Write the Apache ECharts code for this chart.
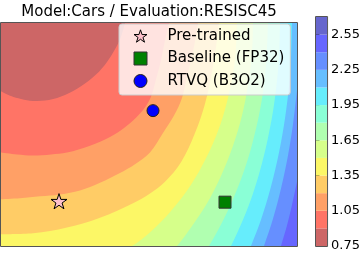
<!DOCTYPE html>
<html><head><meta charset="utf-8">
<script src="https://cdn.jsdelivr.net/npm/echarts@6/dist/echarts.min.js"></script>
<style>html,body{margin:0;padding:0;background:#fff}#c{width:363px;height:255px}</style>
</head><body><div id="c"></div>
<script>
// contour levels (colorbar boundaries)
const levels = [0.75, 0.90, 1.05, 1.20, 1.35, 1.50, 1.65, 1.80, 1.95, 2.10, 2.25, 2.40, 2.55, 2.70];
const cbarTicks = [0.75, 1.05, 1.35, 1.65, 1.95, 2.25, 2.55];

// contour lines, [x, y] in plot units (x 0..296 left->right, y 0..229 top->bottom)
const c090 = [[0,70],[10,75],[20,78],[32,80],[48,79],[64,74],[80,65],[95,53],[106,40],[114,27],[120,14],[124,0]];
const c105 = [[0,133],[16,135],[32,136],[50,135],[66,133],[89,126],[109,117],[124,107],[139,93],[149,78],[155,58],[160,38],[164,18],[168,0]];
const c120 = [[0,181],[19,180],[39,178],[59,176],[79,172],[99,164],[119,154],[134,145],[149,133],[162,113],[173,95],[181,77],[186,55],[190,38],[194,19],[197,0]];
const c135 = [[0,217],[32,216],[66,210],[99,200],[132,185],[149,175],[164,163],[180,143],[194,113],[204,83],[211,50],[215,25],[218,0]];
const c150 = [[0,245],[103,245],[131,229],[150,214],[170,193],[190,166],[205,139],[217,111],[226,81],[232,52],[235,26],[236,0]];
const c165 = [[0,245],[161,245],[176,229],[190,210],[205,187],[220,157],[232,126],[241,95],[247,64],[250,41],[251.5,20],[252,0]];
const c180 = [[0,245],[197,245],[208,229],[220,207],[232,181],[244,149],[253,117],[260,84],[264,55],[266,28],[267,0]];
const c195 = [[0,245],[222,245],[230,229],[242,202],[252,175],[261,144],[268,113],[273,84],[277,49],[278.5,25],[279,0]];
const c210 = [[0,245],[244,245],[250,229],[260,202],[270,168],[278,133],[284,98],[288,65],[290,38],[291,0]];
const c225 = [[0,245],[258,245],[263,229],[272,201],[280,170],[287,136],[292,104],[296,69]];
const c240 = [[0,245],[276,245],[280,229],[286,208],[291,187],[296,163]];
const contourLines = [c090, c105, c120, c135, c150, c165, c180, c195, c210, c225, c240];

// markers
const pretrained = [[58,183]];
const baseline = [[224,184]];
const rtvq = [[152,90]];
const legendNames = ['Pre-trained', 'Baseline (FP32)', 'RTVQ (B3O2)'];

// styles
const bandColors = ['#cd6666','#ff7466','#ffa066','#ffcc66','#fcf766','#d6ff8a','#b0ffb0','#8affd6','#66edfc','#66beff','#668fff','#6666ff','#6666cd'];
const X_MAX = 296, Y_MAX = 229;
const FONT = 'DejaVu Sans';
const starPath = 'path://M0,-100L22.45,-30.9L95.1,-30.9L36.3,11.8L58.8,80.9L0,38.2L-58.8,80.9L-36.3,11.8L-95.1,-30.9L-22.45,-30.9Z';
const starStyle = {color:'#ffc0cb', borderColor:'#000', borderWidth:1, opacity:1};
const squareStyle = {color:'#008000', borderColor:'#333', borderWidth:1, opacity:1};
const circleStyle = {color:'#0000ff', borderColor:'#222', borderWidth:1, opacity:1};

const chart = echarts.init(document.getElementById('c'), null, {renderer:'canvas'});
const series = [];
for (let i = contourLines.length - 1; i >= 0; i--) {
  series.push({
    type:'line', xAxisIndex:0, yAxisIndex:0, data:contourLines[i],
    smooth:0.35, symbol:'none', showSymbol:false, silent:true,
    lineStyle:{width:0, opacity:0},
    areaStyle:{color:bandColors[i], opacity:1, origin:'start'},
    z:1
  });
}
function frame(xMax, yMax) {
  return function(params, api) {
    const a = api.coord([0, 0]);
    const b = api.coord([xMax, yMax]);
    const x0 = Math.min(a[0], b[0]), x1 = Math.max(a[0], b[0]);
    const y0 = Math.min(a[1], b[1]), y1 = Math.max(a[1], b[1]);
    return {type:'rect', shape:{x:x0 - 0.5, y:y0 - 0.5, width:x1 - x0 + 1, height:y1 - y0 + 1},
      style:{fill:'none', stroke:'#555', lineWidth:1}};
  };
}
series.push({type:'custom', xAxisIndex:0, yAxisIndex:0, data:[[0,0]], silent:true, z:6, renderItem:frame(X_MAX, Y_MAX)});
series.push({name:legendNames[0], type:'scatter', xAxisIndex:0, yAxisIndex:0, data:pretrained, symbol:starPath, symbolKeepAspect:true, symbolSize:16,
  itemStyle:starStyle, z:5});
series.push({name:legendNames[1], type:'scatter', xAxisIndex:0, yAxisIndex:0, data:baseline, symbol:'rect', symbolSize:12,
  itemStyle:squareStyle, z:5});
series.push({name:legendNames[2], type:'scatter', xAxisIndex:0, yAxisIndex:0, data:rtvq, symbol:'circle', symbolSize:12,
  itemStyle:circleStyle, z:5});

// colorbar
const cbarData = bandColors.map((c, i) => [levels[i], levels[i + 1]]);
series.push({type:'custom', xAxisIndex:2, yAxisIndex:1, data:cbarData, silent:true, z:2,
  renderItem(params, api) {
    const lo = api.value(0), hi = api.value(1);
    const p0 = api.coord([0, hi]), p1 = api.coord([1, lo]);
    return {type:'rect', shape:{x:p0[0], y:p0[1], width:p1[0] - p0[0], height:p1[1] - p0[1]},
      style:{fill:bandColors[params.dataIndex]}};
  }});
series.push({type:'custom', xAxisIndex:2, yAxisIndex:1, data:[[0,0]], silent:true, z:6,
  renderItem(params, api) {
    const a = api.coord([0, levels[levels.length - 1]]);
    const b = api.coord([1, levels[0]]);
    return {type:'rect', shape:{x:a[0] - 0.5, y:a[1] - 0.5, width:b[0] - a[0] + 1, height:b[1] - a[1] + 1},
      style:{fill:'none', stroke:'#555', lineWidth:1}};
  }});

chart.setOption({
  animation:false,
  grid:[
    {left:1, top:17, width:296, height:229, show:true, backgroundColor:bandColors[11], borderWidth:0},
    {left:316, top:17, width:15, height:229}
  ],
  xAxis:[
    {gridIndex:0, type:'value', min:0, max:X_MAX, show:false},
    {gridIndex:0, type:'value', min:0, max:X_MAX, position:'top', name:'Model:Cars / Evaluation:RESISC45',
      nameLocation:'middle', nameGap:3, nameTextStyle:{fontFamily:FONT, fontSize:15, color:'#000'},
      axisLine:{show:false}, axisTick:{show:false}, axisLabel:{show:false}, splitLine:{show:false}},
    {gridIndex:1, type:'value', min:0, max:1, show:false}
  ],
  yAxis:[
    {gridIndex:0, type:'value', min:0, max:Y_MAX, inverse:true, show:false},
    {gridIndex:1, type:'value', min:levels[0], max:levels[levels.length - 1], position:'right',
      axisLine:{show:false}, splitLine:{show:false},
      axisTick:{show:true, length:3.5, customValues:cbarTicks, lineStyle:{color:'#000', width:1}},
      axisLabel:{show:true, customValues:cbarTicks, formatter:v => Number(v).toFixed(2), margin:4,
        fontFamily:FONT, fontSize:13, color:'#000'}}
  ],
  legend:{
    data:[
      {name:legendNames[0], icon:starPath, itemStyle:starStyle},
      {name:legendNames[1], icon:'rect', itemStyle:squareStyle},
      {name:legendNames[2], icon:'circle', itemStyle:circleStyle}
    ],
    orient:'vertical', left:119, top:24, padding:[4,6,6,14.5],
    itemWidth:13, itemHeight:13, itemGap:6.5, selectedMode:false, symbolKeepAspect:true,
    backgroundColor:'rgba(255,255,255,0.8)', borderColor:'#cccccc', borderWidth:1, borderRadius:3,
    textStyle:{fontFamily:FONT, fontSize:15, color:'#000', padding:[0,0,0,15.5], lineHeight:16}
  },
  series:series
});
</script></body></html>
